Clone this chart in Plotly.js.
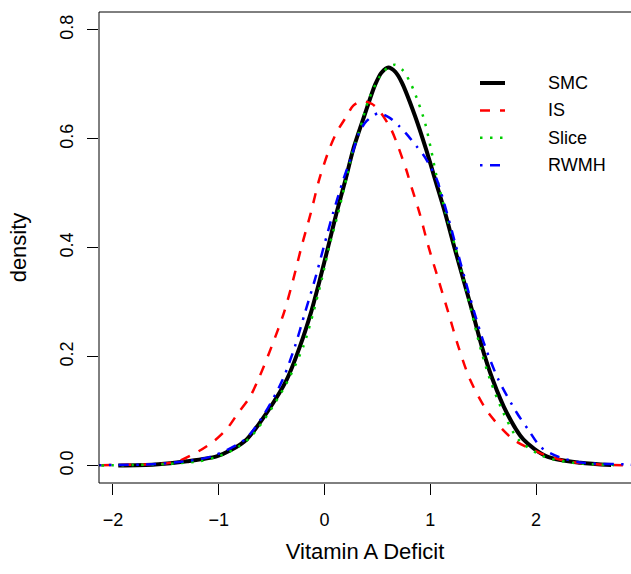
<!DOCTYPE html>
<html>
<head>
<meta charset="utf-8">
<script src="https://cdn.plot.ly/plotly-3.0.1.min.js"></script>
<style>
  html, body { margin: 0; padding: 0; background: #fff; overflow: hidden; }
  #chart { width: 631px; height: 574px; }
</style>
</head>
<body>
<div id="chart"></div>
<script>
// ---- data ----
const seriesNames = ["SMC", "IS", "Slice", "RWMH"];

const smcX = [-1.95, -1.6, -1.30, -1.02, -0.88, -0.736, -0.547, -0.357, -0.232, -0.128, -0.043, 0.036, 0.115, 0.200, 0.272, 0.376, 0.48, 0.54, 0.603, 0.67, 0.730, 0.856, 0.960, 1.054, 1.139, 1.225, 1.313, 1.401, 1.487, 1.590, 1.723, 1.880, 2.10, 2.42, 2.71];
const smcY = [0.000, 0.002, 0.008, 0.017, 0.029, 0.048, 0.097, 0.158, 0.219, 0.281, 0.342, 0.403, 0.465, 0.526, 0.581, 0.642, 0.700, 0.722, 0.731, 0.723, 0.704, 0.642, 0.581, 0.520, 0.465, 0.403, 0.342, 0.281, 0.219, 0.158, 0.097, 0.048, 0.017, 0.005, 0.001];

const isX = [-2.3, -2.0, -1.7, -1.5, -1.382, -1.193, -1.045, -0.925, -0.815, -0.711, -0.626, -0.499, -0.383, -0.295, -0.216, -0.128, -0.049, 0.045, 0.115, 0.210, 0.272, 0.352, 0.45, 0.525, 0.629, 0.698, 0.777, 0.809, 0.897, 0.982, 1.076, 1.171, 1.265, 1.376, 1.549, 1.785, 2.038, 2.29, 2.6, 2.95];
const isY = [0.000, 0.001, 0.002, 0.004, 0.008, 0.026, 0.045, 0.067, 0.097, 0.124, 0.158, 0.219, 0.281, 0.342, 0.403, 0.465, 0.526, 0.581, 0.612, 0.642, 0.661, 0.669, 0.664, 0.650, 0.618, 0.585, 0.541, 0.520, 0.465, 0.403, 0.342, 0.281, 0.219, 0.158, 0.097, 0.048, 0.023, 0.008, 0.002, 0.000];

const sliceX = [-2.3, -1.8, -1.5, -1.18, -1.02, -0.862, -0.705, -0.547, -0.357, -0.200, -0.106, -0.026, 0.046, 0.131, 0.210, 0.272, 0.336, 0.414, 0.525, 0.600, 0.667, 0.745, 0.824, 0.887, 0.950, 1.007, 1.061, 1.145, 1.234, 1.313, 1.392, 1.470, 1.565, 1.691, 1.833, 2.069, 2.35, 2.8];
const sliceY = [0.000, 0.001, 0.003, 0.008, 0.016, 0.029, 0.051, 0.091, 0.152, 0.219, 0.281, 0.342, 0.403, 0.465, 0.530, 0.581, 0.618, 0.670, 0.715, 0.731, 0.736, 0.725, 0.698, 0.667, 0.630, 0.581, 0.530, 0.465, 0.403, 0.342, 0.281, 0.219, 0.158, 0.097, 0.048, 0.017, 0.005, 0.001];

const rwmhX = [-2.3, -2.0, -1.7, -1.4, -1.067, -0.752, -0.563, -0.395, -0.279, -0.184, -0.090, -0.005, 0.083, 0.178, 0.257, 0.329, 0.399, 0.509, 0.613, 0.708, 0.793, 0.872, 0.941, 1.007, 1.061, 1.156, 1.243, 1.329, 1.417, 1.518, 1.644, 1.818, 1.93, 2.05, 2.227, 2.45, 2.87, 3.0];
const rwmhY = [0.000, 0.001, 0.002, 0.006, 0.017, 0.048, 0.097, 0.158, 0.219, 0.281, 0.342, 0.403, 0.465, 0.525, 0.569, 0.612, 0.633, 0.647, 0.639, 0.623, 0.605, 0.586, 0.569, 0.547, 0.526, 0.465, 0.403, 0.342, 0.281, 0.219, 0.158, 0.097, 0.065, 0.033, 0.015, 0.005, 0.002, 0.000];

const xTickVals = [-2, -1, 0, 1, 2];
const xTickText = ["\u22122", "\u22121", "0", "1", "2"];
const yTickVals = [0, 0.2, 0.4, 0.6, 0.8];
const yTickText = ["0.0", "0.2", "0.4", "0.6", "0.8"];

// ---- styles ----
const colors = ["#000000", "#FF0000", "#00CD00", "#0000FF"];
const widths = [4, 2.5, 2.5, 2.5];
const dashes = ["solid", "10px,10px", "2.5px,7.5px", "2.5px,7.5px,10px,7.5px"];
const xs = [smcX, isX, sliceX, rwmhX];
const ys = [smcY, isY, sliceY, rwmhY];

const traces = seriesNames.map((n, i) => ({
  type: "scatter", mode: "lines", name: n,
  x: xs[i], y: ys[i],
  line: { color: colors[i], width: widths[i], dash: dashes[i], shape: "spline", smoothing: 0.8 },
  hoverinfo: "skip"
}));

// manual R-style legend (no box)
const legRowsPx = [83, 110.4, 137.8, 165.2];
const plotTop = 12, plotBot = 483, plotL = 99, plotR = 631;
const px2x = p => (p - plotL) / (plotR - plotL);
const px2y = p => (plotBot - p) / (plotBot - plotTop);
const shapes = [{
  type: "rect", xref: "paper", yref: "paper", x0: 0, x1: 1.05, y0: 0, y1: 1,
  line: { color: "#000", width: 1 }, fillcolor: "rgba(0,0,0,0)"
}];
const annotations = [];
seriesNames.forEach((n, i) => {
  shapes.push({
    type: "line", xref: "paper", yref: "paper",
    x0: px2x(480), x1: px2x(505), y0: px2y(legRowsPx[i]), y1: px2y(legRowsPx[i]),
    line: { color: colors[i], width: widths[i], dash: dashes[i] }
  });
  annotations.push({
    xref: "paper", yref: "paper", x: px2x(546), y: px2y(legRowsPx[i]),
    xanchor: "left", yanchor: "middle", showarrow: false, text: n,
    font: { size: 18, color: "#000" }
  });
});

const layout = {
  width: 631, height: 574,
  margin: { l: 99, r: 0, t: 12, b: 91, pad: 0 },
  paper_bgcolor: "#fff", plot_bgcolor: "#fff",
  font: { family: "Liberation Sans, Arial, Helvetica, sans-serif", size: 18, color: "#000" },
  showlegend: false,
  xaxis: {
    range: [-2.132, 2.898], tickmode: "array", tickvals: xTickVals, ticktext: xTickText,
    ticks: "outside", ticklen: 11, tickwidth: 1, tickcolor: "#000", ticklabelstandoff: 9,
    showgrid: false, zeroline: false, showline: false, automargin: false,
    title: { text: "Vitamin A Deficit", standoff: 15 }
  },
  yaxis: {
    range: [-0.032, 0.833], tickmode: "array", tickvals: yTickVals, ticktext: yTickText,
    ticks: "outside", ticklen: 11, tickwidth: 1, tickcolor: "#000", tickangle: -90,
    ticklabelstandoff: 7,
    showgrid: false, zeroline: false, showline: false, automargin: false,
    title: { text: "density", standoff: 24 }
  },
  shapes: shapes,
  annotations: annotations
};

Plotly.newPlot("chart", traces, layout, { staticPlot: true, displayModeBar: false });
</script>
</body>
</html>
